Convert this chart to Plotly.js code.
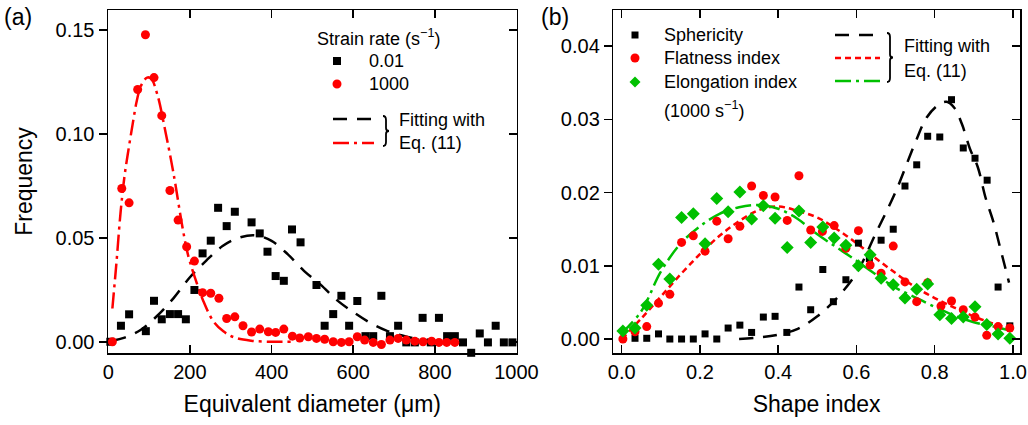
<!DOCTYPE html>
<html>
<head>
<meta charset="utf-8">
<script src="https://cdn.plot.ly/plotly-3.0.1.min.js"></script>
<style>
html,body{margin:0;padding:0;background:#fff;}
#chart{width:1028px;height:425px;}
</style>
</head>
<body>
<div id="chart"></div>
<script>
// ---------------- Panel (a): equivalent diameter ----------------
const diamLowX = [5, 31, 51, 92, 112, 131, 151, 171, 190, 211, 231, 251, 269, 290, 310, 351, 371, 390, 410, 430, 450, 471, 510, 530, 551, 571, 590, 610, 630, 649, 669, 690, 710, 730, 751, 770, 790, 810, 830, 849, 869, 889, 910, 930, 949, 969, 990];
const diamLowY = [0.0000, 0.0077, 0.0132, 0.0051, 0.0197, 0.0108, 0.0133, 0.0133, 0.0108, 0.0249, 0.0425, 0.0486, 0.0644, 0.0556, 0.0625, 0.0574, 0.0521, 0.0433, 0.0316, 0.0293, 0.0540, 0.0478, 0.0273, 0.0077, 0.0133, 0.0221, 0.0077, 0.0196, 0.0027, 0.0027, 0.0221, 0.0027, 0.0077, -0.0003, -0.0003, 0.0115, -0.0003, 0.0115, 0.0027, 0.0027, -0.0003, -0.0053, 0.0040, -0.0003, 0.0077, -0.0003, -0.0003];

const diamHighX = [10, 33, 51, 72, 91, 112, 131, 151, 171, 192, 211, 231, 251, 271, 290, 310, 330, 351, 371, 392, 410, 430, 451, 469, 490, 510, 530, 551, 571, 590, 610, 628, 649, 669, 690, 710, 730, 751, 771, 792, 810, 829, 849];
const diamHighY = [0.0000, 0.0737, 0.0668, 0.1213, 0.1476, 0.1270, 0.1087, 0.0727, 0.0585, 0.0457, 0.0388, 0.0236, 0.0233, 0.0209, 0.0112, 0.0120, 0.0077, 0.0047, 0.0061, 0.0048, 0.0045, 0.0061, 0.0027, 0.0018, 0.0024, 0.0016, 0.0012, 0.0000, -0.0003, 0.0000, 0.0024, 0.0008, -0.0003, -0.0013, 0.0008, 0.0016, 0.0008, 0.0003, 0.0000, 0.0003, -0.0003, -0.0003, -0.0003];

const fitLowX = [10, 40, 80, 120, 160, 200, 240, 280, 320, 360, 400, 440, 480, 520, 560, 600, 640, 680, 720, 760, 800, 850];
const fitLowY = [0.0005, 0.0020, 0.0058, 0.0125, 0.0210, 0.0310, 0.0390, 0.0460, 0.0500, 0.0512, 0.0485, 0.0420, 0.0340, 0.0275, 0.0200, 0.0143, 0.0093, 0.0055, 0.0030, 0.0012, 0.0003, 0.0000];

const fitHighX = [10, 20, 30, 40, 50, 60, 70, 80, 95, 105, 120, 140, 155, 165, 180, 195, 212, 232, 257, 282, 310, 350, 400, 450];
const fitHighY = [0.016, 0.038, 0.062, 0.080, 0.093, 0.105, 0.116, 0.123, 0.127, 0.1265, 0.119, 0.101, 0.086, 0.075, 0.057, 0.042, 0.031, 0.020, 0.010, 0.005, 0.002, 0.0005, 0.0, 0.0];

// ---------------- Panel (b): shape index ----------------
const sphX = [0.034, 0.064, 0.094, 0.123, 0.153, 0.183, 0.213, 0.243, 0.272, 0.302, 0.332, 0.362, 0.392, 0.422, 0.453, 0.483, 0.514, 0.541, 0.573, 0.605, 0.633, 0.663, 0.694, 0.724, 0.754, 0.782, 0.813, 0.843, 0.873, 0.903, 0.934, 0.962, 0.992];
const sphY = [0.0001, 0.0001, 0.0007, 0.0000, 0.0000, 0.0000, 0.0007, 0.0000, 0.0015, 0.0019, 0.0009, 0.0030, 0.0031, 0.0009, 0.0071, 0.0040, 0.0095, 0.0051, 0.0081, 0.0131, 0.0110, 0.0135, 0.0150, 0.0209, 0.0238, 0.0277, 0.0276, 0.0327, 0.0261, 0.0247, 0.0217, 0.0071, 0.0018];

const flatX = [0.003, 0.034, 0.064, 0.094, 0.123, 0.153, 0.183, 0.213, 0.243, 0.272, 0.302, 0.332, 0.362, 0.392, 0.423, 0.453, 0.483, 0.513, 0.543, 0.573, 0.605, 0.635, 0.663, 0.694, 0.724, 0.754, 0.782, 0.816, 0.843, 0.873, 0.903, 0.933, 0.962, 0.992];
const flatY = [0.0000, 0.0010, 0.0017, 0.0049, 0.0061, 0.0132, 0.0141, 0.0120, 0.0161, 0.0137, 0.0154, 0.0209, 0.0196, 0.0194, 0.0162, 0.0223, 0.0149, 0.0147, 0.0155, 0.0124, 0.0148, 0.0101, 0.0090, 0.0127, 0.0078, 0.0051, 0.0077, 0.0045, 0.0052, 0.0040, 0.0030, 0.0005, 0.0017, 0.0015];

const elongX = [0.003, 0.034, 0.064, 0.094, 0.123, 0.153, 0.183, 0.213, 0.243, 0.272, 0.302, 0.332, 0.362, 0.392, 0.423, 0.453, 0.483, 0.514, 0.543, 0.573, 0.605, 0.635, 0.663, 0.694, 0.724, 0.754, 0.782, 0.813, 0.843, 0.873, 0.903, 0.933, 0.962, 0.992];
const elongY = [0.0011, 0.0015, 0.0046, 0.0102, 0.0082, 0.0166, 0.0171, 0.0130, 0.0192, 0.0174, 0.0201, 0.0164, 0.0182, 0.0165, 0.0125, 0.0175, 0.0132, 0.0153, 0.0138, 0.0128, 0.0100, 0.0115, 0.0083, 0.0074, 0.0056, 0.0068, 0.0075, 0.0033, 0.0028, 0.0030, 0.0044, 0.0020, 0.0007, 0.0001];

const fitSphX = [0.30, 0.35, 0.40, 0.45, 0.50, 0.55, 0.60, 0.65, 0.70, 0.75, 0.78, 0.81, 0.83, 0.85, 0.87, 0.89, 0.91, 0.93, 0.95, 0.97, 0.99];
const fitSphY = [0.0000, 0.0002, 0.0006, 0.0014, 0.0031, 0.0056, 0.0090, 0.0145, 0.0201, 0.0268, 0.0303, 0.0320, 0.0324, 0.0316, 0.0293, 0.0260, 0.0235, 0.0193, 0.0160, 0.0119, 0.0077];

const fitShapeX = [0.00, 0.05, 0.10, 0.15, 0.20, 0.25, 0.30, 0.35, 0.40, 0.45, 0.50, 0.55, 0.60, 0.65, 0.70, 0.75, 0.80, 0.85, 0.90, 0.95, 0.99];
const fitFlatY  = [0.0000, 0.0028, 0.0058, 0.0088, 0.0116, 0.0141, 0.0161, 0.0176, 0.0181, 0.0175, 0.0166, 0.0150, 0.0131, 0.0110, 0.0090, 0.0071, 0.0056, 0.0043, 0.0031, 0.0021, 0.0015];
const fitElongY = [0.0008, 0.0038, 0.0092, 0.0130, 0.0154, 0.0171, 0.0180, 0.0183, 0.0178, 0.0164, 0.0143, 0.0125, 0.0107, 0.0088, 0.0070, 0.0057, 0.0044, 0.0032, 0.0023, 0.0017, 0.0012];

// tick labels
const tickA_x = [0, 200, 400, 600, 800, 1000];
const tickA_y = [0, 0.05, 0.10, 0.15];
const tickB_x = [0, 0.2, 0.4, 0.6, 0.8, 1.0];
const tickB_y = [0, 0.01, 0.02, 0.03, 0.04];

// ---------------- styling ----------------
const RED = '#ff0000', GREEN = '#00c000', BLACK = '#000000';
const FONT = 'Arial, "Liberation Sans", sans-serif';
const M = {l:108, r:8, t:10, b:72};
const W = 1028, H = 425;
const PW = W - M.l - M.r, PH = H - M.t - M.b;
const PX = p => (p - M.l) / PW;
const PY = p => (H - M.b - p) / PH;

const DASH_LONG = '14px,10px';
const DASH_DOT = '16px,5px,3px,5px';
const DASH_SHORT = '6px,4px';

const traces = [
  {x: fitLowX, y: fitLowY, xaxis:'x', yaxis:'y', mode:'lines', line:{color:BLACK, width:2.5, dash:DASH_LONG, shape:'spline', smoothing:1}, showlegend:false, hoverinfo:'skip'},
  {x: fitHighX, y: fitHighY, xaxis:'x', yaxis:'y', mode:'lines', line:{color:RED, width:2.5, dash:DASH_DOT, shape:'spline', smoothing:1}, showlegend:false, hoverinfo:'skip'},
  {x: diamLowX, y: diamLowY, xaxis:'x', yaxis:'y', mode:'markers', name:'0.01', marker:{symbol:'square', size:8, color:BLACK}, cliponaxis:false, showlegend:false},
  {x: diamHighX, y: diamHighY, xaxis:'x', yaxis:'y', mode:'markers', name:'1000', marker:{symbol:'circle', size:9, color:RED}, cliponaxis:false, showlegend:false},

  {x: fitSphX, y: fitSphY, xaxis:'x2', yaxis:'y2', mode:'lines', line:{color:BLACK, width:2.5, dash:DASH_LONG, shape:'spline', smoothing:1}, showlegend:false, hoverinfo:'skip'},
  {x: fitShapeX, y: fitFlatY, xaxis:'x2', yaxis:'y2', mode:'lines', line:{color:RED, width:2.5, dash:DASH_SHORT, shape:'spline', smoothing:1}, showlegend:false, hoverinfo:'skip'},
  {x: fitShapeX, y: fitElongY, xaxis:'x2', yaxis:'y2', mode:'lines', line:{color:GREEN, width:2.5, dash:DASH_DOT, shape:'spline', smoothing:1}, showlegend:false, hoverinfo:'skip'},
  {x: sphX, y: sphY, xaxis:'x2', yaxis:'y2', mode:'markers', name:'Sphericity', marker:{symbol:'square', size:7, color:BLACK}, cliponaxis:false, showlegend:false},
  {x: flatX, y: flatY, xaxis:'x2', yaxis:'y2', mode:'markers', name:'Flatness index', marker:{symbol:'circle', size:9, color:RED}, cliponaxis:false, showlegend:false},
  {x: elongX, y: elongY, xaxis:'x2', yaxis:'y2', mode:'markers', name:'Elongation index', marker:{symbol:'diamond', size:10, color:GREEN}, cliponaxis:false, showlegend:false},

  {x: [], y: [], xaxis:'x', yaxis:'y3', showlegend:false},
  {x: [], y: [], xaxis:'x2', yaxis:'y4', showlegend:false}
];

const rangeAy = [-0.0054, 0.1595];
const rangeBy = [-0.00191, 0.04495];

const baseAxis = {
  showline:true, linecolor:BLACK, linewidth:1.5, showgrid:false, zeroline:false,
  ticklen:8, tickwidth:1.5, tickcolor:BLACK,
  tickfont:{family:FONT, size:20, color:BLACK}, automargin:false
};

const layout = {
  width: W, height: H, margin: M,
  paper_bgcolor:'#ffffff', plot_bgcolor:'#ffffff',
  font:{family:FONT, color:BLACK},
  showlegend:false,
  xaxis: Object.assign({}, baseAxis, {
    domain:[0, PX(516.5)], anchor:'y', range:[-0.7, 1000],
    tickmode:'array', tickvals:tickA_x, ticktext:tickA_x.map(String),
    ticks:'inside', mirror:'ticks',
    title:{text:'Equivalent diameter (μm)', font:{family:FONT, size:23, color:BLACK}, standoff:14}
  }),
  yaxis: Object.assign({}, baseAxis, {
    domain:[0,1], anchor:'x', range:rangeAy,
    tickmode:'array', tickvals:tickA_y, ticktext:tickA_y.map(v => v.toFixed(2)),
    ticks:'outside', mirror:true,
    title:{text:'Frequency', font:{family:FONT, size:23, color:BLACK}, standoff:16}
  }),
  yaxis3: {
    overlaying:'y', anchor:'x', side:'right', range:rangeAy,
    tickmode:'array', tickvals:tickA_y, ticks:'inside', ticklen:8, tickwidth:1.5, tickcolor:BLACK,
    showticklabels:false, showline:false, showgrid:false, zeroline:false
  },
  xaxis2: Object.assign({}, baseAxis, {
    domain:[PX(613.3), 1], anchor:'y2', range:[-0.0215, 1.018],
    tickmode:'array', tickvals:tickB_x, ticktext:tickB_x.map(v => v.toFixed(1)),
    ticks:'inside', mirror:'ticks',
    title:{text:'Shape index', font:{family:FONT, size:23, color:BLACK}, standoff:14}
  }),
  yaxis2: Object.assign({}, baseAxis, {
    domain:[0,1], anchor:'x2', range:rangeBy,
    tickmode:'array', tickvals:tickB_y, ticktext:tickB_y.map(v => v.toFixed(2)),
    ticks:'outside', mirror:true
  }),
  yaxis4: {
    overlaying:'y2', anchor:'x2', side:'right', range:rangeBy,
    tickmode:'array', tickvals:tickB_y, ticks:'inside', ticklen:8, tickwidth:1.5, tickcolor:BLACK,
    showticklabels:false, showline:false, showgrid:false, zeroline:false
  },
  shapes: [],
  annotations: []
};

// ---------------- hand-placed legends ----------------
function txt(text, px, py, size, anchor) {
  layout.annotations.push({
    text: text, xref:'paper', yref:'paper', x: PX(px), y: PY(py),
    xanchor: anchor || 'left', yanchor:'middle', showarrow:false,
    font:{family:FONT, size:size, color:BLACK}
  });
}
function lineSample(x0, x1, py, color, dash) {
  layout.shapes.push({type:'line', xref:'paper', yref:'paper', x0:PX(x0), x1:PX(x1), y0:PY(py), y1:PY(py),
    line:{color:color, width:2.5, dash:dash}});
}
function squareMark(cx, cy, s, color) {
  layout.shapes.push({type:'rect', xref:'paper', yref:'paper', x0:PX(cx-s/2), x1:PX(cx+s/2), y0:PY(cy+s/2), y1:PY(cy-s/2),
    fillcolor:color, line:{width:0}});
}
function circleMark(cx, cy, d, color) {
  layout.shapes.push({type:'circle', xref:'paper', yref:'paper', x0:PX(cx-d/2), x1:PX(cx+d/2), y0:PY(cy+d/2), y1:PY(cy-d/2),
    fillcolor:color, line:{width:0}});
}
function diamondMark(cx, cy, r, color) {
  const p = `M ${PX(cx)} ${PY(cy-r)} L ${PX(cx+r)} ${PY(cy)} L ${PX(cx)} ${PY(cy+r)} L ${PX(cx-r)} ${PY(cy)} Z`;
  layout.shapes.push({type:'path', xref:'paper', yref:'paper', path:p, fillcolor:color, line:{width:0}});
}
function brace(x, yTop, yBot) {
  const ym = (yTop + yBot) / 2;
  const p = `M ${PX(x)} ${PY(yTop)} Q ${PX(x+3)} ${PY(yTop)} ${PX(x+3)} ${PY(yTop+4)} ` +
            `L ${PX(x+3)} ${PY(ym-3)} Q ${PX(x+3)} ${PY(ym)} ${PX(x+6)} ${PY(ym)} ` +
            `Q ${PX(x+3)} ${PY(ym)} ${PX(x+3)} ${PY(ym+3)} L ${PX(x+3)} ${PY(yBot-4)} ` +
            `Q ${PX(x+3)} ${PY(yBot)} ${PX(x)} ${PY(yBot)}`;
  layout.shapes.push({type:'path', xref:'paper', yref:'paper', path:p, line:{color:BLACK, width:1.8}});
}

// panel labels
txt('(a)', 2, 17, 23, 'left');
txt('(b)', 539, 17, 23, 'left');

// legend (a)
txt('Strain rate (s<sup>−1</sup>)', 315, 38, 18);
squareMark(337, 61, 8, BLACK);  txt('0.01', 367, 61, 18);
circleMark(337, 84, 9, RED);    txt('1000', 367, 84, 18);
lineSample(333, 374, 119, BLACK, DASH_LONG);
lineSample(333, 374, 143, RED, DASH_DOT);
brace(383, 116, 146);
txt('Fitting with', 397, 120, 18);
txt('Eq. (11)', 397, 143, 18);

// legend (b)
squareMark(635, 35, 7, BLACK);     txt('Sphericity', 662, 35, 18);
circleMark(635, 58, 9, RED);       txt('Flatness index', 662, 58, 18);
diamondMark(635, 82, 5.5, GREEN);  txt('Elongation index', 662, 82, 18);
txt('(1000 s<sup>−1</sup>)', 662, 110, 18);
lineSample(835, 880, 35, BLACK, DASH_LONG);
lineSample(835, 880, 58, RED, DASH_SHORT);
lineSample(835, 880, 81, GREEN, DASH_DOT);
brace(887, 33, 82);
txt('Fitting with', 902, 46, 18);
txt('Eq. (11)', 902, 71, 18);

Plotly.newPlot('chart', traces, layout, {staticPlot:true, displayModeBar:false});
</script>
</body>
</html>
